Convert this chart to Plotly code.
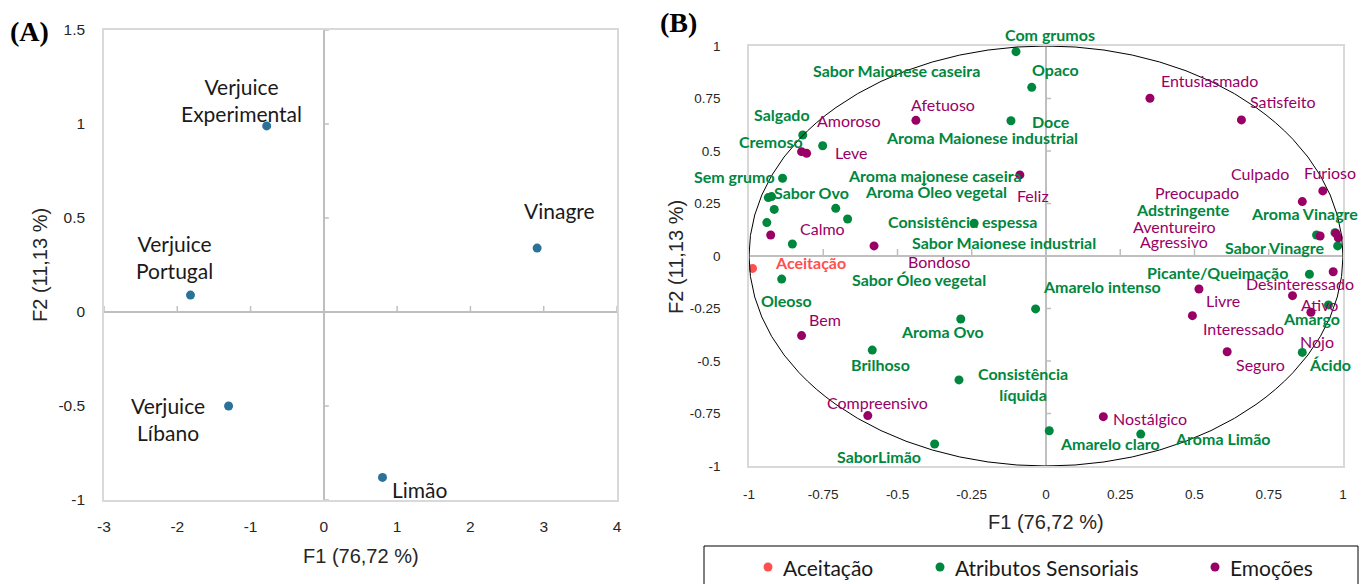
import plotly.graph_objects as go

W, H = 1365, 584

# ---------------- Data: panel A (samples) ----------------
samples = ["Verjuice<br>Experimental", "Vinagre", "Verjuice<br>Portugal", "Verjuice<br>Líbano", "Limão"]
samples_f1 = [-0.78, 2.91, -1.82, -1.30, 0.80]
samples_f2 = [0.99, 0.34, 0.09, -0.50, -0.88]

a_xticks = [-3, -2, -1, 0, 1, 2, 3, 4]
a_xticktext = ["-3", "-2", "-1", "0", "1", "2", "3", "4"]
a_yticks = [-1, -0.5, 0, 0.5, 1, 1.5]
a_yticktext = ["-1", "-0.5", "0", "0.5", "1", "1.5"]

# ---------------- Data: panel B (variables) ----------------
series_names = ["Aceitação", "Atributos Sensoriais", "Emoções"]

acc_names = ["Aceitação"]
acc_f1 = [-0.988]
acc_f2 = [-0.059]

sens_names = ["Com grumos", "Opaco", "Doce", "Salgado", "Sabor Maionese caseira", "Cremoso",
              "Sem grumo", "Sabor Ovo", "Aroma majonese caseira", "Aroma Óleo vegetal",
              "Aroma Maionese industrial", "Sabor Maionese industrial", "Sabor Óleo vegetal",
              "Consistência espessa", "Oleoso", "Aroma Ovo", "Brilhoso", "Consistência<br>líquida",
              "SaborLimão", "Amarelo intenso", "Amarelo claro", "Aroma Limão", "Adstringente",
              "Aroma Vinagre", "Sabor Vinagre", "Picante/Queimação", "Amargo", "Ácido"]
sens_f1 = [-0.101, -0.048, -0.118, -0.819, -0.752, -0.935,
           -0.887, -0.924, -0.708, -0.668,
           -0.915, -0.940, -0.854,
           -0.242, -0.890, -0.287, -0.585, -0.293,
           -0.375, -0.035, 0.011, 0.319, 0.911,
           0.973, 0.982, 0.887, 0.951, 0.863]
sens_f2 = [0.973, 0.803, 0.644, 0.576, 0.525, 0.278,
           0.370, 0.283, 0.227, 0.176,
           0.222, 0.159, 0.057,
           0.156, -0.110, -0.300, -0.448, -0.590,
           -0.895, -0.252, -0.832, -0.848, 0.100,
           0.111, 0.048, -0.087, -0.233, -0.459]

emo_names = ["Afetuoso", "Amoroso", "Leve", "Calmo", "Bondoso", "Bem", "Compreensivo", "Feliz",
             "Entusiasmado", "Satisfeito", "Culpado", "Furioso", "Preocupado", "Aventureiro",
             "Agressivo", "Desinteressado", "Ativo", "Livre", "Interessado", "Nojo", "Seguro",
             "Nostálgico"]
emo_f1 = [-0.438, -0.823, -0.806, -0.927, -0.579, -0.823, -0.600, -0.088,
          0.350, 0.658, 0.863, 0.932, 0.923, 0.976,
          0.984, 0.967, 0.830, 0.515, 0.493, 0.892, 0.610,
          0.193]
emo_f2 = [0.646, 0.497, 0.489, 0.100, 0.048, -0.379, -0.760, 0.386,
          0.751, 0.648, 0.259, 0.310, 0.095, 0.108,
          0.087, -0.075, -0.189, -0.157, -0.284, -0.268, -0.456,
          -0.765]

b_ticks = [-1, -0.75, -0.5, -0.25, 0, 0.25, 0.5, 0.75, 1]
b_ticktext = ["-1", "-0.75", "-0.5", "-0.25", "0", "0.25", "0.5", "0.75", "1"]

# ---------------- Styles / label placement (pixel offsets) ----------------
C_BLUE = "#2b7298"
C_RED = "#ff5050"
C_GREEN = "#00873e"
C_PURPLE = "#990066"
GRID_LINE = "#d9d9d9"
ZERO_LINE = "#bfbfbf"
TICK_COLOR = "#262626"

a_label_off = {
    "Verjuice<br>Experimental": (-25, 26),
    "Vinagre": (22, 38),
    "Verjuice<br>Portugal": (-16, 38),
    "Verjuice<br>Líbano": (-61, -13),
    "Limão": (38, -12),
}
acc_off = {"Aceitação": (58, 6)}
sens_off = {
    "Com grumos": (34, 17), "Opaco": (24, 18), "Doce": (40, -1), "Salgado": (-21, 21),
    "Sabor Maionese caseira": (74, 75), "Cremoso": (3, 56), "Sem grumo": (-48, 2),
    "Sabor Ovo": (40, 4), "Aroma majonese caseira": (99, 33), "Aroma Óleo vegetal": (88, 28),
    "Aroma Maionese industrial": (208, 72), "Sabor Maionese industrial": (237, -20),
    "Sabor Óleo vegetal": (127, -35), "Consistência espessa": (-12, 2), "Oleoso": (5, -21),
    "Aroma Ovo": (-18, -12), "Brilhoso": (8, -14), "Consistência<br>líquida": (64, -4),
    "SaborLimão": (-56, -13), "Amarelo intenso": (66, 22), "Amarelo claro": (61, -13),
    "Aroma Limão": (82, -4), "Adstringente": (-134, 26), "Aroma Vinagre": (-30, 19),
    "Sabor Vinagre": (-63, -2), "Picante/Queimação": (-92, 2), "Amargo": (-17, -14),
    "Ácido": (28, -12),
}
emo_off = {
    "Afetuoso": (27, 16), "Amoroso": (47, 31), "Leve": (44, 1), "Calmo": (52, 7),
    "Bondoso": (65, -16), "Bem": (23, 16), "Compreensivo": (10, 13), "Feliz": (13, -21),
    "Entusiasmado": (60, 18), "Satisfeito": (42, 18), "Culpado": (-42, 28), "Furioso": (7, 18),
    "Preocupado": (-123, 44), "Aventureiro": (-161, 7), "Agressivo": (-164, -4),
    "Desinteressado": (-33, -12), "Ativo": (27, -9), "Livre": (24, -12),
    "Interessado": (51, -13), "Nojo": (6, -29), "Seguro": (33, -13), "Nostálgico": (47, -2),
}


def px(x):
    return x / W


def py(y):
    return 1 - y / H


fig = go.Figure()

# Panel A points
fig.add_trace(go.Scatter(x=samples_f1, y=samples_f2, mode="markers", xaxis="x", yaxis="y",
                         marker=dict(color=C_BLUE, size=9), showlegend=False, hoverinfo="text",
                         text=[s.replace("<br>", " ") for s in samples]))

# Panel B points
fig.add_trace(go.Scatter(x=sens_f1, y=sens_f2, mode="markers", xaxis="x2", yaxis="y2",
                         name=series_names[1], marker=dict(color=C_GREEN, size=9),
                         showlegend=False, text=sens_names, hoverinfo="text"))
fig.add_trace(go.Scatter(x=emo_f1, y=emo_f2, mode="markers", xaxis="x2", yaxis="y2",
                         name=series_names[2], marker=dict(color=C_PURPLE, size=9),
                         showlegend=False, text=emo_names, hoverinfo="text"))
fig.add_trace(go.Scatter(x=acc_f1, y=acc_f2, mode="markers", xaxis="x2", yaxis="y2",
                         name=series_names[0], marker=dict(color=C_RED, size=9),
                         showlegend=False, text=acc_names, hoverinfo="text"))

annotations = []

# Panel A labels
for name, xv, yv in zip(samples, samples_f1, samples_f2):
    dx, dy = a_label_off[name]
    annotations.append(dict(x=xv, y=yv, xref="x", yref="y", text=name, showarrow=False,
                            xshift=dx, yshift=dy, xanchor="center", yanchor="middle",
                            font=dict(family="Lato", size=21, color="#1a1a1a")))


def add_labels(names, xs, ys, offs, color, bold):
    for name, xv, yv in zip(names, xs, ys):
        dx, dy = offs[name]
        annotations.append(dict(x=xv, y=yv, xref="x2", yref="y2", text=name, showarrow=False,
                                xshift=dx, yshift=dy, xanchor="center", yanchor="middle",
                                font=dict(family="Lato", size=16, color=color,
                                          weight="bold" if bold else "normal")))


add_labels(sens_names, sens_f1, sens_f2, sens_off, C_GREEN, True)
add_labels(emo_names, emo_f1, emo_f2, emo_off, C_PURPLE, False)
add_labels(acc_names, acc_f1, acc_f2, acc_off, C_RED, True)

# Panel tags
annotations.append(dict(x=px(8), y=py(31), xref="paper", yref="paper", text="<b>(A)</b>",
                        showarrow=False, xanchor="left", yanchor="middle",
                        font=dict(family="Liberation Serif", size=28, color="black")))
annotations.append(dict(x=px(658), y=py(23), xref="paper", yref="paper", text="<b>(B)</b>",
                        showarrow=False, xanchor="left", yanchor="middle",
                        font=dict(family="Liberation Serif", size=28, color="black")))

# Axis titles
title_font = dict(family="Liberation Sans", size=20, color=TICK_COLOR)
annotations.append(dict(x=px(361), y=py(556), xref="paper", yref="paper", text="F1 (76,72 %)",
                        showarrow=False, xanchor="center", yanchor="middle", font=title_font))
annotations.append(dict(x=px(40), y=py(265), xref="paper", yref="paper", text="F2 (11,13 %)",
                        showarrow=False, xanchor="center", yanchor="middle", textangle=-90,
                        font=title_font))
annotations.append(dict(x=px(1046), y=py(522), xref="paper", yref="paper", text="F1 (76,72 %)",
                        showarrow=False, xanchor="center", yanchor="middle", font=title_font))
annotations.append(dict(x=px(676), y=py(257), xref="paper", yref="paper", text="F2 (11,13 %)",
                        showarrow=False, xanchor="center", yanchor="middle", textangle=-90,
                        font=title_font))

shapes = []

# Unit circle in panel B
shapes.append(dict(type="circle", xref="x2", yref="y2", x0=-1, y0=-1, x1=1, y1=1,
                   line=dict(color="black", width=1), layer="above"))

# small tick marks on the zero lines
for tv in a_xticks:
    shapes.append(dict(type="line", xref="x", yref="y", x0=tv, x1=tv, ysizemode="pixel",
                       yanchor=0, y0=0, y1=6, line=dict(color=ZERO_LINE, width=1.5), layer="below"))
for tv in a_yticks:
    shapes.append(dict(type="line", xref="x", yref="y", y0=tv, y1=tv, xsizemode="pixel",
                       xanchor=0, x0=0, x1=5, line=dict(color=ZERO_LINE, width=1.5), layer="below"))
for tv in b_ticks:
    shapes.append(dict(type="line", xref="x2", yref="y2", x0=tv, x1=tv, ysizemode="pixel",
                       yanchor=0, y0=0, y1=7, line=dict(color=ZERO_LINE, width=1.5), layer="below"))
    shapes.append(dict(type="line", xref="x2", yref="y2", y0=tv, y1=tv, xsizemode="pixel",
                       xanchor=0, x0=0, x1=5, line=dict(color=ZERO_LINE, width=1.5), layer="below"))

# Manual legend box
shapes.append(dict(type="rect", xref="paper", yref="paper", x0=px(704), x1=px(1358),
                   y0=py(600), y1=py(546), line=dict(color="black", width=1),
                   fillcolor="white"))
legend_colors = [C_RED, C_GREEN, C_PURPLE]
legend_marker_x = [768, 940, 1215]
for name, col, mx in zip(series_names, legend_colors, legend_marker_x):
    shapes.append(dict(type="circle", xref="paper", yref="paper", xsizemode="pixel",
                       ysizemode="pixel", xanchor=px(mx), yanchor=py(567),
                       x0=-4.5, x1=4.5, y0=-4.5, y1=4.5, fillcolor=col, line=dict(width=0)))
    annotations.append(dict(x=px(mx + 13), y=py(567), xref="paper", yref="paper", text=name,
                            showarrow=False, xanchor="left", yanchor="middle",
                            font=dict(family="Lato", size=21, color="#1a1a1a")))

axis_common = dict(showgrid=False, zeroline=True, zerolinecolor=ZERO_LINE, zerolinewidth=1.5,
                   showline=True, mirror=True, linecolor=GRID_LINE, linewidth=1.5,
                   ticks="", automargin=False, fixedrange=True)

fig.update_layout(
    width=W, height=H,
    margin=dict(l=0, r=0, t=0, b=0),
    paper_bgcolor="white", plot_bgcolor="white",
    showlegend=False,
    xaxis=dict(domain=[px(104), px(617)], range=[-3, 4], tickvals=a_xticks, ticktext=a_xticktext,
               tickfont=dict(family="Liberation Sans", size=15.5, color=TICK_COLOR),
               ticklabelstandoff=12, anchor="y", **axis_common),
    yaxis=dict(domain=[py(500), py(30)], range=[-1, 1.5], tickvals=a_yticks, ticktext=a_yticktext,
               tickfont=dict(family="Liberation Sans", size=15.5, color=TICK_COLOR),
               ticklabelstandoff=14, anchor="x", **axis_common),
    xaxis2=dict(domain=[px(749), px(1343)], range=[-1, 1], tickvals=b_ticks, ticktext=b_ticktext,
                tickfont=dict(family="Liberation Sans", size=13.5, color=TICK_COLOR),
                ticklabelstandoff=15, anchor="y2", **axis_common),
    yaxis2=dict(domain=[py(466), py(46)], range=[-1, 1], tickvals=b_ticks, ticktext=b_ticktext,
                tickfont=dict(family="Liberation Sans", size=13.5, color=TICK_COLOR),
                ticklabelstandoff=24, anchor="x2", **axis_common),
    annotations=annotations,
    shapes=shapes,
)

fig.write_html("out.html", config={"displayModeBar": False},
               post_script="document.body.style.margin='0';document.body.style.overflow='hidden';")
